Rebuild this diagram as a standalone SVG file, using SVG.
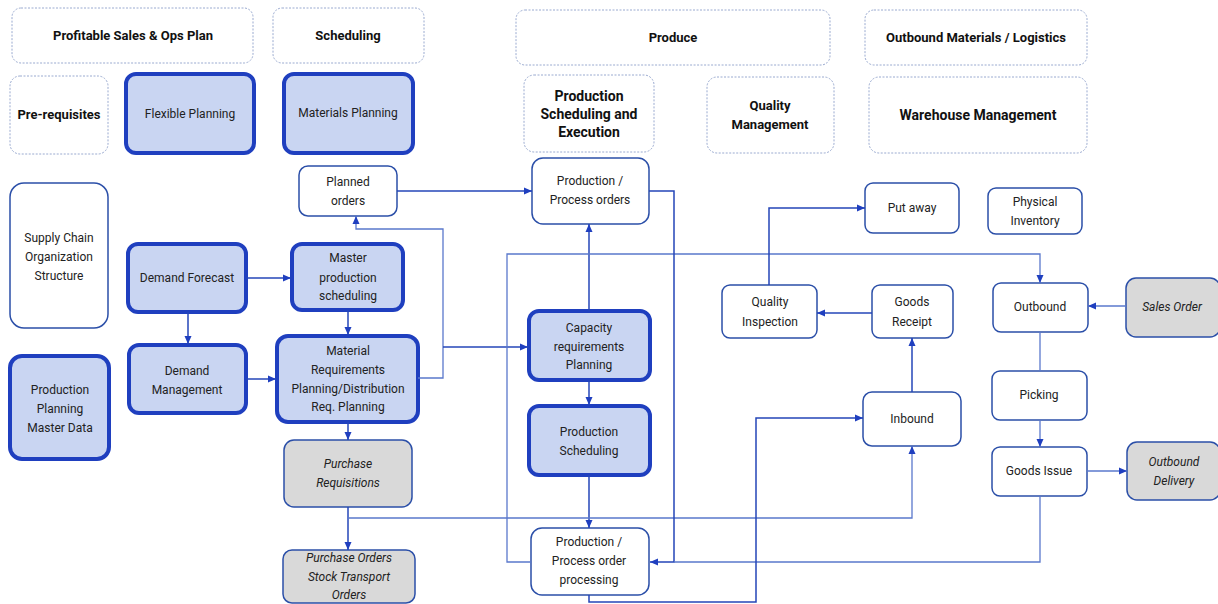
<svg xmlns="http://www.w3.org/2000/svg" width="1218" height="604" viewBox="0 0 1218 604">
<style>
text{font-family:Roboto,"Liberation Sans",sans-serif;font-size:12px;fill:#222;text-anchor:middle}
.hdr{font-weight:bold;font-size:13px;fill:#111}
.big{font-weight:bold;font-size:14px;fill:#111}
.it{font-style:italic}
.dot{fill:#fff;stroke:#9aaad0;stroke-width:1;stroke-dasharray:2 1.5}
.thick{fill:#c9d5f2;stroke:#1f3fbf;stroke-width:4}
.thin{fill:#fff;stroke:#2b4fa8;stroke-width:1.5}
.grey{fill:#d9d9d9;stroke:#2b4fa8;stroke-width:1.5}
#connectors path{fill:none;stroke:#2446b8;stroke-width:1.5}
#connectors path.lt{stroke:#5a78cc;stroke-width:1.3}
</style>
<defs>
<marker id="ah" markerUnits="userSpaceOnUse" markerWidth="8" markerHeight="8" refX="8" refY="4" orient="auto">
<path d="M0,0.5 L8,4 L0,7.5 Z" fill="#1f3fbf"/>
</marker>
</defs>
<rect width="1218" height="604" fill="#fff"/>

<g id="n-sop"><rect class="dot" x="12" y="8" width="241" height="55" rx="9"/><text class="hdr" x="133" y="40">Profitable Sales &amp; Ops Plan</text></g>
<g id="n-sched"><rect class="dot" x="273" y="8" width="151" height="55" rx="9"/><text class="hdr" x="348" y="40">Scheduling</text></g>
<g id="n-produce"><rect class="dot" x="516" y="10" width="314" height="55" rx="9"/><text class="hdr" x="673" y="42">Produce</text></g>
<g id="n-outlog"><rect class="dot" x="865" y="10" width="222" height="55" rx="9"/><text class="hdr" x="976" y="42">Outbound Materials / Logistics</text></g>

<g id="n-prereq"><rect class="dot" x="10" y="76" width="98" height="78" rx="10"/><text class="hdr" x="59" y="119">Pre-requisites</text></g>
<g id="n-flex"><rect class="thick" x="126" y="74" width="128" height="79" rx="10"/><text x="190" y="118">Flexible Planning</text></g>
<g id="n-matplan"><rect class="thick" x="284" y="74" width="129" height="79" rx="10"/><text x="348" y="117">Materials Planning</text></g>
<g id="n-pse"><rect class="dot" x="524" y="75" width="130" height="77" rx="10"/><text class="big" x="589" y="101">Production</text><text class="big" x="589" y="119">Scheduling and</text><text class="big" x="589" y="137">Execution</text></g>
<g id="n-qm"><rect class="dot" x="707" y="77" width="127" height="76" rx="10"/><text class="hdr" x="770" y="110">Quality</text><text class="hdr" x="770" y="129">Management</text></g>
<g id="n-wm"><rect class="dot" x="869" y="77" width="218" height="76" rx="10"/><text class="big" x="978" y="120">Warehouse Management</text></g>

<g id="n-scos"><rect class="thin" x="10" y="183" width="98" height="145" rx="14"/><text x="59" y="242">Supply Chain</text><text x="59" y="261">Organization</text><text x="59" y="280">Structure</text></g>
<g id="n-ppmd"><rect class="thick" x="10" y="356" width="99" height="103" rx="12"/><text x="60" y="394">Production</text><text x="60" y="413">Planning</text><text x="60" y="432">Master Data</text></g>
<g id="n-df"><rect class="thick" x="128" y="244" width="118" height="68" rx="10"/><text x="187" y="282">Demand Forecast</text></g>
<g id="n-dm"><rect class="thick" x="129" y="345" width="117" height="68" rx="10"/><text x="187" y="375">Demand</text><text x="187" y="394">Management</text></g>
<g id="n-planned"><rect class="thin" x="299" y="166" width="98" height="50" rx="9"/><text x="348" y="186">Planned</text><text x="348" y="205">orders</text></g>
<g id="n-mps"><rect class="thick" x="292" y="244" width="111" height="66" rx="10"/><text x="348" y="262">Master</text><text x="348" y="282">production</text><text x="348" y="300">scheduling</text></g>
<g id="n-mrp"><rect class="thick" x="277" y="336" width="141" height="86" rx="11"/><text x="348" y="355">Material</text><text x="348" y="374">Requirements</text><text x="348" y="393">Planning/Distribution</text><text x="348" y="411">Req. Planning</text></g>
<g id="n-pr"><rect class="grey" x="284" y="440" width="128" height="67" rx="10"/><text class="it" x="348" y="468">Purchase</text><text class="it" x="348" y="487">Requisitions</text></g>
<g id="n-po"><rect class="grey" x="283" y="550" width="132" height="53" rx="9"/><text class="it" x="349" y="562">Purchase Orders</text><text class="it" x="349" y="581">Stock Transport</text><text class="it" x="349" y="599">Orders</text></g>

<g id="n-ppo"><rect class="thin" x="532" y="158" width="117" height="66" rx="11"/><text x="590" y="185">Production /</text><text x="590" y="204">Process orders</text></g>
<g id="n-crp"><rect class="thick" x="529" y="311" width="121" height="69" rx="10"/><text x="589" y="332">Capacity</text><text x="589" y="351">requirements</text><text x="589" y="369">Planning</text></g>
<g id="n-ps"><rect class="thick" x="529" y="406" width="121" height="69" rx="10"/><text x="589" y="436">Production</text><text x="589" y="455">Scheduling</text></g>
<g id="n-ppoproc"><rect class="thin" x="531" y="528" width="118" height="67" rx="11"/><text x="589" y="546">Production /</text><text x="589" y="565">Process order</text><text x="589" y="584">processing</text></g>

<g id="n-putaway"><rect class="thin" x="865" y="183" width="94" height="50" rx="8"/><text x="912" y="212">Put away</text></g>
<g id="n-qi"><rect class="thin" x="722" y="285" width="95" height="53" rx="8"/><text x="770" y="306">Quality</text><text x="770" y="326">Inspection</text></g>
<g id="n-gr"><rect class="thin" x="872" y="285" width="81" height="53" rx="8"/><text x="912" y="306">Goods</text><text x="912" y="326">Receipt</text></g>
<g id="n-inbound"><rect class="thin" x="863" y="392" width="98" height="54" rx="9"/><text x="912" y="423">Inbound</text></g>
<g id="n-pi"><rect class="thin" x="988" y="188" width="94" height="46" rx="8"/><text x="1035" y="206">Physical</text><text x="1035" y="225">Inventory</text></g>
<g id="n-outbound"><rect class="thin" x="993" y="283" width="95" height="49" rx="8"/><text x="1040" y="311">Outbound</text></g>
<g id="n-so"><rect class="grey" x="1126" y="278" width="94" height="59" rx="10"/><text class="it" x="1172" y="311">Sales Order</text></g>
<g id="n-picking"><rect class="thin" x="992" y="371" width="95" height="49" rx="8"/><text x="1039" y="399">Picking</text></g>
<g id="n-gi"><rect class="thin" x="992" y="447" width="95" height="49" rx="8"/><text x="1039" y="475">Goods Issue</text></g>
<g id="n-od"><rect class="grey" x="1127" y="442" width="93" height="58" rx="10"/><text class="it" x="1174" y="466">Outbound</text><text class="it" x="1174" y="485">Delivery</text></g>

<g id="connectors">
<path d="M246,278 H291" marker-end="url(#ah)"/>
<path d="M188,312 V344" marker-end="url(#ah)"/>
<path d="M246,379 H276" marker-end="url(#ah)"/>
<path d="M348,310 V335" marker-end="url(#ah)"/>
<path class="lt" d="M418,378 H443 V229 H356 V216" marker-end="url(#ah)"/>
<path d="M443,347 H528" marker-end="url(#ah)"/>
<path d="M397,191 H532" marker-end="url(#ah)"/>
<path d="M589,311 V224" marker-end="url(#ah)"/>
<path d="M589,380 V405" marker-end="url(#ah)"/>
<path d="M589,475 V528" marker-end="url(#ah)"/>
<path d="M348,422 V440" marker-end="url(#ah)"/>
<path d="M348,507 V550" marker-end="url(#ah)"/>
<path class="lt" d="M348,518 H912 V446" marker-end="url(#ah)"/>
<path class="lt" d="M531,562 H507 V254 H1040 V283" marker-end="url(#ah)"/>
<path d="M649,191 H674 V562 H650" marker-end="url(#ah)"/>
<path class="lt" d="M1040,496 V562 H674"/>
<path d="M589,595 V602 H756 V418 H863" marker-end="url(#ah)"/>
<path d="M912,392 V338" marker-end="url(#ah)"/>
<path d="M872,313 H817" marker-end="url(#ah)"/>
<path d="M769,285 V208 H865" marker-end="url(#ah)"/>
<path class="lt" d="M1126,306 H1088" marker-end="url(#ah)"/>
<path class="lt" d="M1040,332 V371"/>
<path class="lt" d="M1040,420 V447" marker-end="url(#ah)"/>
<path class="lt" d="M1087,471 H1127" marker-end="url(#ah)"/>
</g>
</svg>
